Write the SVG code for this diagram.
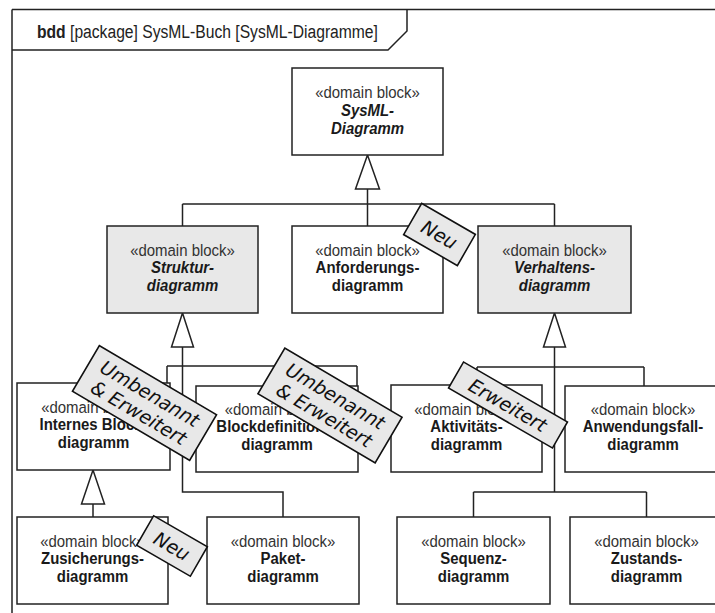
<svg xmlns="http://www.w3.org/2000/svg" width="715" height="613" viewBox="0 0 715 613">
<style>
.frame{fill:none;stroke:#222;stroke-width:1.5}
.box{fill:#fff;stroke:#222;stroke-width:1.5}
.abs{fill:#e8e8e8;stroke:#222;stroke-width:1.5}
.ln{fill:none;stroke:#222;stroke-width:1.5}
.tri{fill:#fff;stroke:#222;stroke-width:1.5}
.note{fill:#e8e8e8;stroke:#111;stroke-width:1.6}
text{font-family:"Liberation Sans",Arial,sans-serif;fill:#1a1a1a}
.t{font-size:17px;text-anchor:middle}
.st{fill:#333}
.b{font-weight:bold}
.bi{font-weight:bold;font-style:italic}
.nt{font-family:"DejaVu Sans",sans-serif;font-style:italic;font-size:19px;text-anchor:middle;fill:#111}
.hd{font-size:18px;fill:#222}
</style>
<g id="frame">
<path class="frame" d="M12,9.5 H716 M12,9.5 V614"/>
<path class="frame" d="M12,50 H388 L407,31 V9.5"/>
<g transform="translate(37 0) scale(0.87 1)"><text class="hd" x="0" y="38"><tspan font-weight="bold">bdd</tspan> [package] SysML-Buch [SysML-Diagramme]</text></g>
</g>
<g id="connectors">
<polygon class="tri" points="367.5,155 355.5,189 379.5,189"/>
<path class="ln" d="M367.5,189 V226 M182.5,204 H554.5 M182.5,204 V226 M554.5,204 V226"/>
<polygon class="tri" points="182.5,313 171.5,347 193.5,347"/>
<path class="ln" d="M182.5,347 V492 H283 V517 M167,366 H357 M167,366 V383 M357,366 V386"/>
<polygon class="tri" points="554.5,313 543.5,347 565.5,347"/>
<path class="ln" d="M554.5,347 V492 M477,367 H644 M477,367 V385 M644,367 V386 M473.5,492 H646.5 M473.5,492 V517 M646.5,492 V517"/>
<polygon class="tri" points="93,470 81.5,504 104.5,504"/>
<path class="ln" d="M93,504 V517"/>
</g>
<g id="n-sysml"><rect class="box" x="292" y="68" width="151" height="87"/>
<g transform="translate(367.5 0) scale(0.88 1)"><text class="t st" y="98">«domain block»</text><text class="t bi" y="116">SysML-</text><text class="t bi" y="134">Diagramm</text></g></g>
<g id="n-struktur"><rect class="abs" x="107" y="226" width="151" height="87"/>
<g transform="translate(182.5 0) scale(0.88 1)"><text class="t st" y="256">«domain block»</text><text class="t bi" y="273.5">Struktur-</text><text class="t bi" y="291">diagramm</text></g></g>
<g id="n-anforderung"><rect class="box" x="292" y="226" width="151" height="87"/>
<g transform="translate(367.5 0) scale(0.88 1)"><text class="t st" y="256">«domain block»</text><text class="t b" y="273.5">Anforderungs-</text><text class="t b" y="291">diagramm</text></g></g>
<g id="n-verhalten"><rect class="abs" x="478" y="226" width="153" height="87"/>
<g transform="translate(554.5 0) scale(0.88 1)"><text class="t st" y="256">«domain block»</text><text class="t bi" y="273.5">Verhaltens-</text><text class="t bi" y="291">diagramm</text></g></g>
<g id="n-ibd"><rect class="box" x="17" y="383" width="153" height="87"/>
<g transform="translate(93.5 0) scale(0.88 1)"><text class="t st" y="413">«domain block»</text><text class="t b" y="430.5">Internes Block-</text><text class="t b" y="448">diagramm</text></g></g>
<g id="n-bdd"><rect class="box" x="196" y="386" width="162" height="86"/>
<g transform="translate(277 0) scale(0.88 1)"><text class="t st" y="415">«domain block»</text><text class="t b" y="432.5">Blockdefinitions-</text><text class="t b" y="450">diagramm</text></g></g>
<g id="n-akt"><rect class="box" x="391" y="385" width="151" height="87"/>
<g transform="translate(466.5 0) scale(0.88 1)"><text class="t st" y="415">«domain block»</text><text class="t b" y="432.5">Aktivitäts-</text><text class="t b" y="450">diagramm</text></g></g>
<g id="n-anw"><rect class="box" x="565" y="386" width="158" height="86"/>
<g transform="translate(643 0) scale(0.88 1)"><text class="t st" y="415">«domain block»</text><text class="t b" y="432.5">Anwendungsfall-</text><text class="t b" y="450">diagramm</text></g></g>
<g id="n-zus"><rect class="box" x="17" y="517" width="151" height="87"/>
<g transform="translate(92.5 0) scale(0.88 1)"><text class="t st" y="547">«domain block»</text><text class="t b" y="564.5">Zusicherungs-</text><text class="t b" y="582">diagramm</text></g></g>
<g id="n-paket"><rect class="box" x="207" y="517" width="152" height="87"/>
<g transform="translate(283 0) scale(0.88 1)"><text class="t st" y="547">«domain block»</text><text class="t b" y="564.5">Paket-</text><text class="t b" y="582">diagramm</text></g></g>
<g id="n-seq"><rect class="box" x="397" y="517" width="153" height="87"/>
<g transform="translate(473.5 0) scale(0.88 1)"><text class="t st" y="547">«domain block»</text><text class="t b" y="564.5">Sequenz-</text><text class="t b" y="582">diagramm</text></g></g>
<g id="n-zst"><rect class="box" x="570" y="517" width="153" height="87"/>
<g transform="translate(646.5 0) scale(0.88 1)"><text class="t st" y="547">«domain block»</text><text class="t b" y="564.5">Zustands-</text><text class="t b" y="582">diagramm</text></g></g>
<g id="note-neu1" transform="translate(439.5 234.5) rotate(30)"><rect class="note" x="-31" y="-18" width="62" height="36"/><text class="nt" y="7">Neu</text></g>
<g id="note-neu2" transform="translate(172 546) rotate(30)"><rect class="note" x="-31" y="-17" width="62" height="34"/><text class="nt" y="7">Neu</text></g>
<g id="note-ue1" transform="translate(144.5 403) rotate(30.5)"><rect class="note" x="-68" y="-26.5" width="136" height="53"/><text class="nt" y="-4">Umbenannt</text><text class="nt" y="18">&amp; Erweitert</text></g>
<g id="note-ue2" transform="translate(330 405.5) rotate(30.5)"><rect class="note" x="-68" y="-26.5" width="136" height="53"/><text class="nt" y="-4">Umbenannt</text><text class="nt" y="18">&amp; Erweitert</text></g>
<g id="note-erw" transform="translate(508 405) rotate(30)"><rect class="note" x="-60" y="-15" width="120" height="30"/><text class="nt" y="7">Erweitert</text></g>
</svg>
